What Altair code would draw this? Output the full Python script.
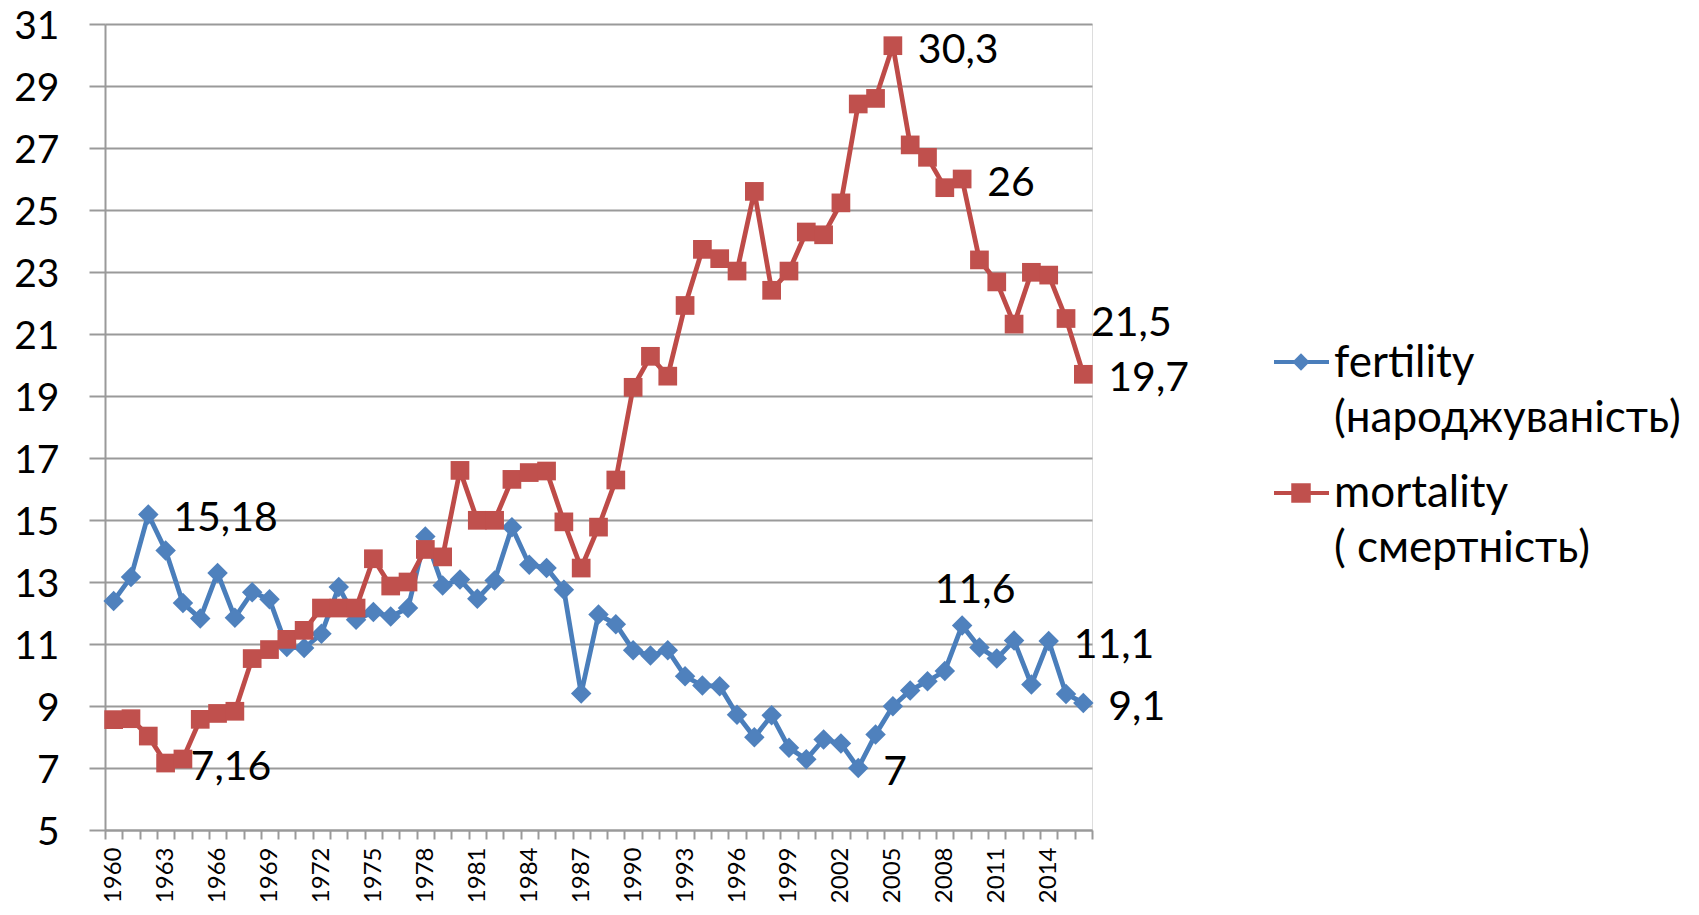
import altair as alt
import pandas as pd

# ---------------- data ----------------
YEARS = list(range(1960, 2017))

FERTILITY = [12.39, 13.16, 15.18, 14.02, 12.32, 11.82, 13.29, 11.85, 12.67, 12.44,
             10.9, 10.87, 11.33, 12.84, 11.78, 12.03, 11.89, 12.16, 14.47, 12.89,
             13.08, 12.46, 13.05, 14.77, 13.56, 13.45, 12.75, 9.4, 11.95, 11.64,
             10.8, 10.63, 10.8, 9.96, 9.66, 9.64, 8.72, 7.99, 8.7, 7.65,
             7.28, 7.92, 7.79, 7.0, 8.08, 8.99, 9.5, 9.8, 10.13, 11.6,
             10.89, 10.53, 11.11, 9.69, 11.1, 9.39, 9.1]

MORTALITY = [8.56, 8.59, 8.03, 7.16, 7.29, 8.57, 8.76, 8.83, 10.53, 10.82,
             11.15, 11.44, 12.16, 12.16, 12.16, 13.75, 12.87, 13.0, 14.05, 13.81,
             16.6, 14.99, 14.99, 16.31, 16.53, 16.58, 14.94, 13.45, 14.77, 16.29,
             19.28, 20.28, 19.64, 21.92, 23.73, 23.43, 23.03, 25.6, 22.41, 23.03,
             24.29, 24.2, 25.23, 28.42, 28.6, 30.3, 27.1, 26.7, 25.72, 26.0,
             23.39, 22.68, 21.32, 22.99, 22.9, 21.5, 19.7]

SERIES_NAMES = ["fertility\n(народжуваність)", "mortality\n( смертність)"]
Y_TICKS = list(range(5, 32, 2))

# years that carry a data label
FERT_LABEL_RIGHT = [1962, 2003, 2014, 2016]
FERT_LABEL_ABOVE = [2009]
MORT_LABEL_RIGHT = [1963, 2005, 2009, 2015, 2016]

# ---------------- styling ----------------
FONT = "Lato"
BLUE_LINE, BLUE_MARK = "#4A7EBB", "#4F81BD"
RED_LINE, RED_MARK = "#BE4B48", "#C0504D"
GRID = "#9a9a9a"


def fmt(v):
    return f"{v:g}".replace(".", ",")


fert = pd.DataFrame({"year": YEARS, "value": FERTILITY})
mort = pd.DataFrame({"year": YEARS, "value": MORTALITY})
fert["label"] = fert["value"].map(fmt)
mort["label"] = mort["value"].map(fmt)

x_axis = alt.Axis(
    title=None, tickBand="extent", labelAngle=270, labelAlign="right",
    labelBaseline="middle",
    labelExpr="(toNumber(datum.value) - 1960) % 3 == 0 ? datum.label : ''",
    labelFont=FONT, labelFontSize=24, labelColor="black", labelPadding=8,
    labelOverlap=False, tickSize=9, tickColor=GRID, tickWidth=2,
    domainColor=GRID, domainWidth=2, grid=False,
)
y_axis = alt.Axis(
    title=None, values=Y_TICKS, grid=True, gridColor=GRID, gridWidth=2,
    domainColor=GRID, domainWidth=2, tickColor=GRID, tickWidth=2, tickSize=16,
    labelFont=FONT, labelFontSize=39, labelColor="black", labelPadding=30,
    labelOffset=2,
)

x_enc = alt.X("year:O", scale=alt.Scale(type="band", paddingInner=0, paddingOuter=0), axis=x_axis)
y_enc = alt.Y("value:Q", scale=alt.Scale(domain=[5, 31], nice=False, zero=False), axis=y_axis)


def series(df, line_color, mark_color, shape, size):
    line = alt.Chart(df).mark_line(color=line_color, strokeWidth=4.8).encode(x=x_enc, y=y_enc)
    pts = alt.Chart(df).mark_point(filled=True, opacity=1, color=mark_color,
                                   shape=shape, size=size).encode(x=x_enc, y=y_enc)
    return [line, pts]


def labels_right(df, years):
    return alt.Chart(df[df["year"].isin(years)]).mark_text(
        align="left", baseline="alphabetic", dx=25, dy=17,
        font=FONT, fontSize=41, color="black",
    ).encode(x=x_enc, y=y_enc, text="label:N")


def labels_above(df, years):
    return alt.Chart(df[df["year"].isin(years)]).mark_text(
        align="center", baseline="alphabetic", dx=13, dy=-22,
        font=FONT, fontSize=41, color="black",
    ).encode(x=x_enc, y=y_enc, text="label:N")


def legend_entry(name, line_color, mark_color, shape, size, y_line, y_text):
    d = alt.Data(values=[{"label": name}])
    rule = alt.Chart(d).mark_rule(color=line_color, strokeWidth=4).encode(
        x=alt.value(1169), x2=alt.value(1224), y=alt.value(y_line))
    sym = alt.Chart(d).mark_point(filled=True, opacity=1, color=mark_color,
                                  shape=shape, size=size).encode(
        x=alt.value(1196), y=alt.value(y_line))
    txt = alt.Chart(d).mark_text(
        align="left", baseline="alphabetic", font=FONT, fontSize=44,
        lineBreak="\n", lineHeight=55, color="black",
    ).encode(x=alt.value(1229), y=alt.value(y_text), text="label:N")
    return [rule, sym, txt]


layers = []
layers += series(fert, BLUE_LINE, BLUE_MARK, "diamond", 420)
layers += series(mort, RED_LINE, RED_MARK, "square", 350)
layers.append(labels_right(fert, FERT_LABEL_RIGHT))
layers.append(labels_above(fert, FERT_LABEL_ABOVE))
layers.append(labels_right(mort, MORT_LABEL_RIGHT))
layers += legend_entry(SERIES_NAMES[0], BLUE_LINE, BLUE_MARK, "diamond", 300, 338, 353)
layers += legend_entry(SERIES_NAMES[1], RED_LINE, RED_MARK, "square", 380, 469, 483)

chart = alt.layer(*layers).properties(
    width=987, height=806,
    autosize=alt.AutoSizeParams(type="none"),
    padding={"left": 97, "top": 16, "right": 595, "bottom": 75},
    background="white",
).configure_view(stroke=None).configure(font=FONT)

chart.save("out.html", embed_options={"renderer": "svg", "actions": False})
